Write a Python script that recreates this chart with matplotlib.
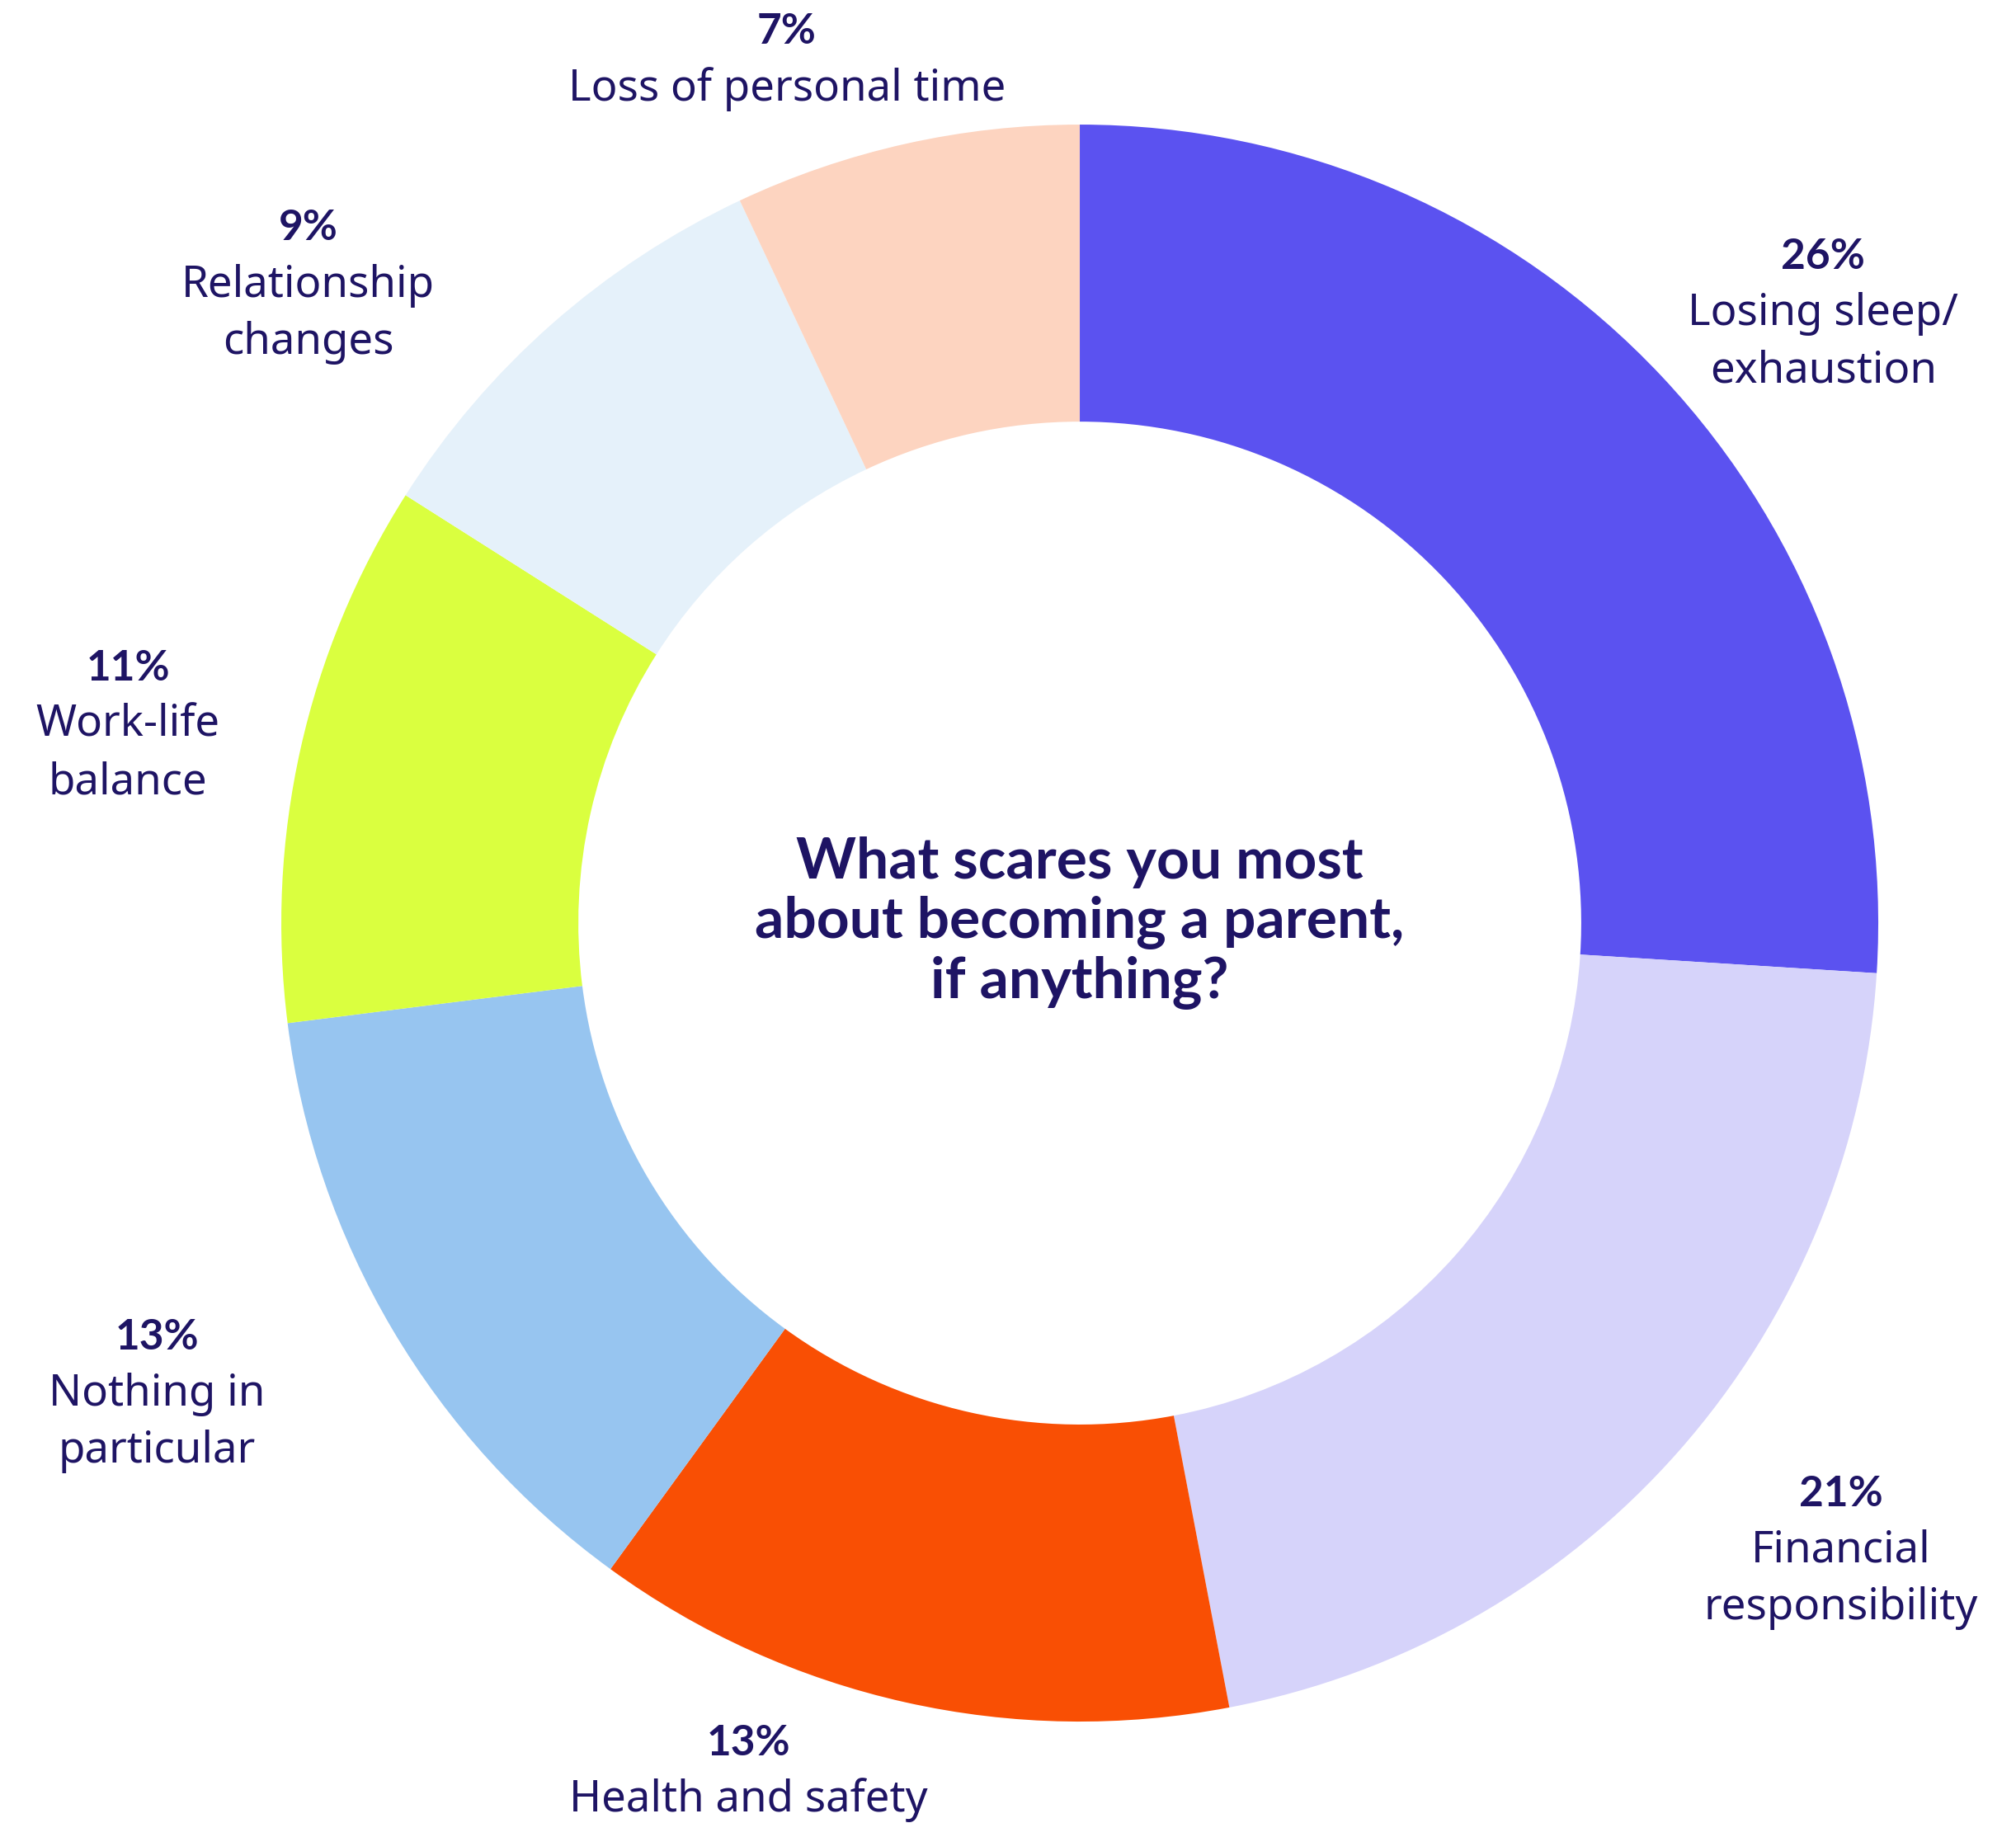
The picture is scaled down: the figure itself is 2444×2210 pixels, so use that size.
import matplotlib
matplotlib.use("Agg")
import matplotlib.pyplot as plt
from matplotlib import font_manager as fm

categories = ["Losing sleep/\nexhaustion", "Financial\nresponsibility", "Health and safety",
              "Nothing in\nparticular", "Work-life\nbalance", "Relationship\nchanges",
              "Loss of personal time"]
values = [26, 21, 13, 13, 11, 9, 7]
colors = ["#5b52f0", "#d6d3fa", "#f94f04", "#97c5f0", "#daff3f", "#e5f1fa", "#fdd4c0"]
title_text = "What scares you most\nabout becoming a parent,\nif anything?"

# label placement (data coords: pie radius = 1)
pct_xy = [(0.931, 0.834), (0.953, -0.715), (-0.415, -1.027), (-1.156, -0.519),
          (-1.192, 0.319), (-0.966, 0.870), (-0.367, 1.116)]
line_step = 0.0715

navy = "#1e1464"
plt.rcParams['font.family'] = ['Noto Sans', 'DejaVu Sans']

# pick an upright bold font file explicitly if available
bold_fp = None
for f in fm.fontManager.ttflist:
    if f.name == 'Lato' and f.style == 'normal' and f.weight in (700, 'bold'):
        bold_fp = fm.FontProperties(fname=f.fname)
        break
if bold_fp is None:
    bold_fp = fm.FontProperties(family=['Open Sans', 'DejaVu Sans'], weight='bold')

fig = plt.figure(figsize=(24.44, 22.10), dpi=100)
ax = fig.add_axes([0, 0, 1, 1])
ax.pie(values, colors=colors, startangle=90, counterclock=False, radius=1.0,
       wedgeprops=dict(width=0.372, edgecolor='none'))
ax.set_xlim(-1.3523, 1.1725)
ax.set_ylim(-1.127, 1.156)
ax.set_aspect('equal')
ax.axis('off')

for (x, y), v, c in zip(pct_xy, values, categories):
    ax.text(x, y, f"{v}%", ha='center', va='center', fontproperties=bold_fp, fontsize=37,
            color=navy)
    for i, line in enumerate(c.split('\n')):
        ax.text(x, y - (i + 1) * line_step, line, ha='center', va='center', fontsize=38,
                color=navy)

ax.text(0, 0, title_text, ha='center', va='center', fontproperties=bold_fp, fontsize=50,
        color=navy, linespacing=1.17)

fig.savefig("out.png", dpi=100)
